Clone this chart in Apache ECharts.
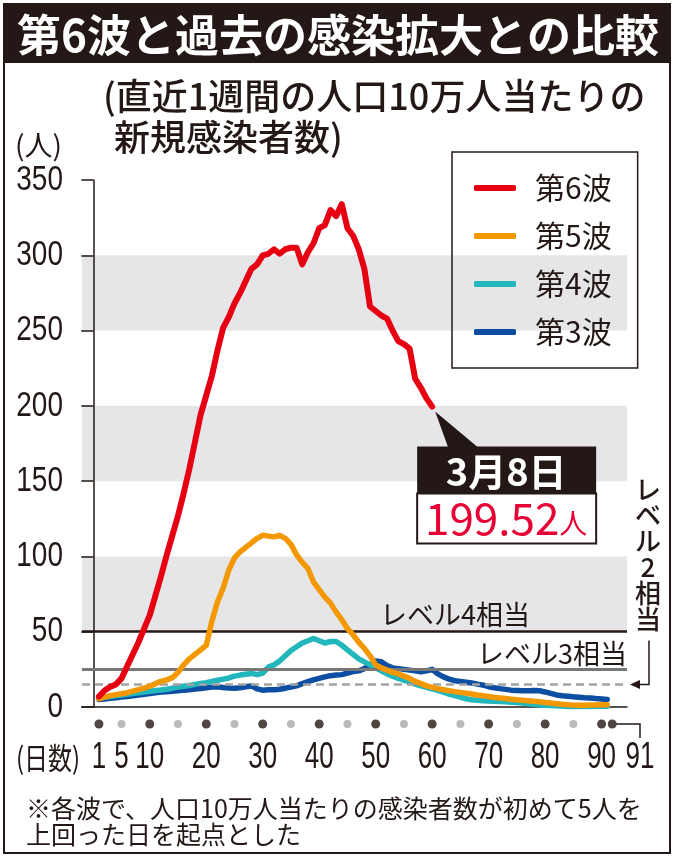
<!DOCTYPE html>
<html>
<head>
<meta charset="utf-8">
<title>第6波と過去の感染拡大との比較</title>
<script src="https://cdn.jsdelivr.net/npm/echarts@6/dist/echarts.min.js"></script>
<style>
html, body { margin: 0; padding: 0; background: #fff; }
#chart { width: 677px; height: 860px; }
</style>
</head>
<body>
<div id="chart"></div>
<script>
// 各波の直近1週間の人口10万人当たり新規感染者数（起点からの日数順）
var wave6 = [7, 11, 13.5, 15, 19, 27, 35, 43, 52, 61,
	74, 87, 101, 114, 127, 142, 158, 176, 194, 207,
	220, 237, 252, 259, 268, 275, 283, 291, 294, 300,
	301, 304, 301, 304, 305, 305, 294, 302, 308, 318,
	320, 330, 326, 334, 318, 313, 304, 291, 266, 263,
	260, 258, 250, 243, 241, 238, 218, 212, 205, 199.52];

var wave5 = [5.5, 6.5, 7.5, 8.2, 8.8, 9.5, 10.5, 11.5, 12.5, 13.8,
	15.5, 17, 18, 19.5, 23, 28, 32, 35, 38, 41,
	57, 70, 79, 91, 99, 103, 106, 109, 112, 114,
	113.5, 113, 114, 112, 108, 101, 96, 92, 83, 78,
	73, 69, 63, 58, 52, 48, 43, 39, 34, 28,
	26, 24.5, 23, 22, 20.5, 19, 17, 15.5, 14, 13,
	12.2, 11.5, 10.8, 10.2, 9.7, 9.2, 8.6, 8, 7.5, 7,
	6.4, 6, 5.6, 5.2, 4.8, 4.5, 4.2, 3.8, 3.5, 3,
	2.6, 2.2, 1.8, 1.5, 1.3, 1.2, 1.2, 1.3, 1.4, 1.5, 1.5];

var wave4 = [6, 6.5, 7, 7.5, 8, 8.5, 9, 9.5, 10, 10.5,
	11, 11.3, 11.8, 12.5, 13.3, 13.8, 14.3, 15, 15.7, 16.2,
	17, 17.8, 18.5, 19.3, 20.5, 21.2, 21.8, 22.3, 21.5, 22.5,
	26.5, 28, 30.5, 34, 37.5, 40, 42.5, 44, 45.5, 44,
	42.5, 43.5, 43.5, 41, 38, 35, 32, 30, 28, 26,
	24, 22, 20.5, 19, 17.8, 16.5, 15.2, 14, 13, 12,
	11, 9.8, 8.5, 7.5, 6.5, 5.5, 4.8, 4.5, 4.2, 4,
	3.8, 3.6, 3.5, 3.2, 3, 2.6, 2.2, 1.8, 1.4, 1.2,
	1, 0.8, 0.6, 0.4, 0.3, 0.3, 0.3, 0.4, 0.5, 0.5, 0.5];

var wave3 = [5, 5.3, 5.8, 6.2, 6.6, 7, 7.5, 8, 8.5, 9,
	9.5, 10, 10.2, 10.5, 10.8, 11.2, 11.5, 12, 12.3, 12.8,
	13.2, 13.5, 13, 12.6, 12.5, 12.8, 13.5, 14, 12, 11.2,
	11.5, 11.5, 11.8, 12.5, 13.3, 14, 15.5, 16.8, 18, 19,
	20, 20.8, 21.2, 21.5, 22.5, 23.5, 24, 25.5, 28, 30.5,
	30, 27.5, 26, 25.5, 25, 24.5, 24, 23.4, 24, 25,
	22, 20, 18.5, 17.5, 17, 16.5, 16, 15.2, 14.5, 13.5,
	12.8, 12.2, 11.7, 11.2, 11, 10.8, 10.8, 11, 10.8, 10,
	9, 8, 7.5, 7.2, 6.8, 6.5, 6.2, 6, 5.6, 5.3, 5];

var waveNames = ['第6波', '第5波', '第4波', '第3波'];

// 縦軸の目盛り
var yTicks = [0, 50, 100, 150, 200, 250, 300, 350];

// 横軸の目盛り（日数）
var dotDays = [1, 5, 10, 15, 20, 25, 30, 35, 40, 45, 50, 55, 60, 65, 70, 75, 80, 85, 90, 91];
var labelDays = [1, 5, 10, 20, 30, 40, 50, 60, 70, 80, 90];
var lastDay = 91;

// 目安となる水準
var levelNames = ['レベル4相当', 'レベル3相当', 'レベル2相当'];
var levelValues = [50, 25, 15];

var lastDate = '3月8日';

// 色
var ink = '#231815';
var waveColors = ['#e60012', '#f39800', '#22b6bd', '#0b4ea2'];
var jp = '"Noto Sans CJK JP", sans-serif';
var num = '"Liberation Sans", sans-serif';

var chart = echarts.init(document.getElementById('chart'));

var toPairs = function(list){
	return list.map(function(v, i){ return [i + 1, v]; });
};

var lineSeries = [wave6, wave5, wave4, wave3].map(function(list, i){
	return {
		name: waveNames[i],
		type: 'line',
		data: toPairs(list),
		symbol: 'none',
		z: 6 - i,
		lineStyle: { width: i === 0 ? 6 : 5.5, color: waveColors[i], cap: 'round', join: 'round' },
		itemStyle: { color: waveColors[i] }
	};
});

// レベルの線
var levelStyles = [
	{ color: ink, width: 2.5, type: 'solid' },
	{ color: '#777777', width: 3, type: 'solid' },
	{ color: '#a3a3a3', width: 2.5, type: [8, 5] }
];
var levelSeries = {
	type: 'line',
	data: [],
	z: 1,
	silent: true,
	markLine: {
		symbol: ['none', 'none'],
		silent: true,
		animation: false,
		label: { show: false },
		data: levelValues.map(function(v, i){
			return { yAxis: v, lineStyle: levelStyles[i] };
		})
	}
};

// 日数の点
var dotSeries = {
	type: 'scatter',
	xAxisIndex: 1,
	yAxisIndex: 1,
	silent: true,
	data: dotDays.map(function(d){
		var major = d === 1 || d % 10 === 0 || d === lastDay;
		return {
			value: [d, 0],
			symbolSize: major ? 9 : 8,
			symbolOffset: d === lastDay ? [5, 0] : [0, 0],
			itemStyle: { color: major ? ink : '#a9a9a9' }
		};
	})
};

var option = {
	animation: false,
	textStyle: { fontFamily: jp },
	grid: [
		{ left: 82, top: 180, width: 545, height: 527 },
		{ left: 82, top: 714, width: 545, height: 20 }
	],
	xAxis: [
		{
			type: 'value', gridIndex: 0, min: -2, max: 94.5,
			axisLine: { show: true, onZero: false, lineStyle: { color: ink, width: 1.5 } },
			axisTick: { show: false },
			axisLabel: { show: false },
			splitLine: { show: false }
		},
		{ type: 'value', gridIndex: 1, min: -2, max: 94.5, show: false }
	],
	yAxis: [
		{
			type: 'value', gridIndex: 0, min: yTicks[0], max: yTicks[yTicks.length - 1], interval: 50,
			axisLine: { show: true, lineStyle: { color: ink, width: 1.5 } },
			axisTick: { show: true, length: 12, lineStyle: { color: ink, width: 1.5 } },
			axisLabel: { show: false },
			splitLine: { show: false },
			splitArea: { show: true, areaStyle: { color: ['rgba(255,255,255,0)', '#e6e6e8'] } }
		},
		{ type: 'value', gridIndex: 1, min: -1, max: 1, show: false }
	],
	legend: {
		data: waveNames,
		orient: 'vertical',
		left: 452,
		top: 152,
		icon: 'roundRect',
		itemWidth: 42,
		itemHeight: 6,
		itemGap: 18,
		padding: [21, 26, 21, 22],
		borderColor: ink,
		borderWidth: 1.5,
		selectedMode: false,
		textStyle: { fontSize: 30, lineHeight: 30, color: ink, fontFamily: jp, padding: [0, 0, 0, 14] }
	},
	series: lineSeries.concat([levelSeries, dotSeries])
};

chart.setOption(option);

/* 見出し・目盛り・注記・吹き出しなど */
var buildGraphics = function(){
	var els = [];
	var pt = function(day, val){ return chart.convertToPixel({ gridIndex: 0 }, [day, val]); };
	var dotX = function(day){ return chart.convertToPixel({ xAxisIndex: 1 }, day); };
	var text = function(x, y, str, size, opt){
		opt = opt || {};
		return {
			type: 'text', x: x, y: y, scaleX: opt.scaleX || 1, z: 20,
			style: {
				text: str, fontSize: size, fontFamily: opt.family || jp,
				fontWeight: opt.weight || 'normal', fill: opt.color || ink,
				textAlign: opt.align || 'left', textVerticalAlign: opt.valign || 'middle',
				lineHeight: opt.lineHeight
			}
		};
	};

	// 外枠とタイトル
	els.push({ type: 'rect', shape: { x: 4, y: 4, width: 666, height: 849 }, style: { fill: 'transparent', stroke: ink, lineWidth: 2 }, z: 20 });
	els.push({ type: 'rect', shape: { x: 4, y: 4, width: 666, height: 59 }, style: { fill: ink }, z: 19 });
	els.push(text(338, 35, '第6波と過去の感染拡大との比較', 44, { color: '#fff', weight: 'bold', align: 'center' }));
	els.push(text(103, 96, '(直近1週間の人口10万人当たりの', 36, { weight: 500 }));
	els.push(text(114, 137, '新規感染者数)', 36, { weight: 500 }));
	els.push(text(15, 145, '(人)', 28));

	// 縦軸ラベル（やや細長い数字）
	yTicks.forEach(function(v){
		els.push(text(63, pt(1, v)[1], String(v), 35, { family: num, align: 'right', scaleX: 0.8 }));
	});

	// 日数ラベル
	labelDays.forEach(function(d){
		els.push(text(dotX(d), 758, String(d), 36, { family: num, align: 'center', scaleX: 0.72 }));
	});
	var x91 = dotX(lastDay) + 9;
	els.push({ type: 'polyline', shape: { points: [[x91, 724], [640, 724], [640, 738]] }, style: { stroke: ink, lineWidth: 1.5, fill: null }, z: 20 });
	els.push(text(640, 758, String(lastDay), 36, { family: num, align: 'center', scaleX: 0.72 }));
	els.push(text(48, 758, '(日数)', 30, { align: 'center', scaleX: 0.8 }));

	// レベルの説明
	var y4 = pt(1, levelValues[0])[1];
	var y3 = pt(1, levelValues[1])[1];
	var y2 = pt(1, levelValues[2])[1];
	els.push(text(380, y4 - 17, levelNames[0], 27));
	els.push(text(627, y3 - 16, levelNames[1], 27, { align: 'right' }));
	els.push(text(648, y2 - 208, levelNames[2].split('').join('\n'), 26, { align: 'center', valign: 'top', lineHeight: 26, weight: 500 }));
	els.push({ type: 'polyline', shape: { points: [[649, y2 - 44], [649, y2], [639, y2]] }, style: { stroke: ink, lineWidth: 1.5, fill: null }, z: 20 });
	els.push({ type: 'polygon', shape: { points: [[630, y2], [640, y2 - 4.5], [640, y2 + 4.5]] }, style: { fill: ink }, z: 20 });

	// 最新値の吹き出し
	var last = wave6.length;
	var p = pt(last, wave6[last - 1]);
	var bx = p[0] - 15, by = p[1] + 40;
	els.push({ type: 'polygon', shape: { points: [[p[0] + 3, p[1] + 5], [p[0] + 16, by + 1], [p[0] + 46, by + 1]] }, style: { fill: ink }, z: 20 });
	els.push({ type: 'rect', shape: { x: bx, y: by, width: 179, height: 47 }, style: { fill: ink }, z: 20 });
	els.push({ type: 'rect', shape: { x: bx, y: by + 47, width: 179, height: 50 }, style: { fill: '#fff', stroke: ink, lineWidth: 2 }, z: 20 });
	els.push(text(bx + 89, by + 25, lastDate, 38, { color: '#fff', weight: 'bold', align: 'center' }));
	els.push({
		type: 'text', x: bx + 89, y: by + 72, z: 21,
		style: {
			text: '{v|' + wave6[last - 1] + '}{u|人}',
			textAlign: 'center', textVerticalAlign: 'middle',
			rich: {
				v: { fontSize: 44, fontFamily: jp, fill: '#e60033', color: '#e60033' },
				u: { fontSize: 28, fontFamily: jp, fill: '#e60033', color: '#e60033', padding: [10, 0, 0, 0] }
			}
		}
	});

	// 注記
	els.push(text(26, 808, '※各波で、人口10万人当たりの感染者数が初めて5人を', 25));
	els.push(text(26, 834, '上回った日を起点とした', 25));

	chart.setOption({ graphic: { elements: els } });
};

buildGraphics();
</script>
</body>
</html>
